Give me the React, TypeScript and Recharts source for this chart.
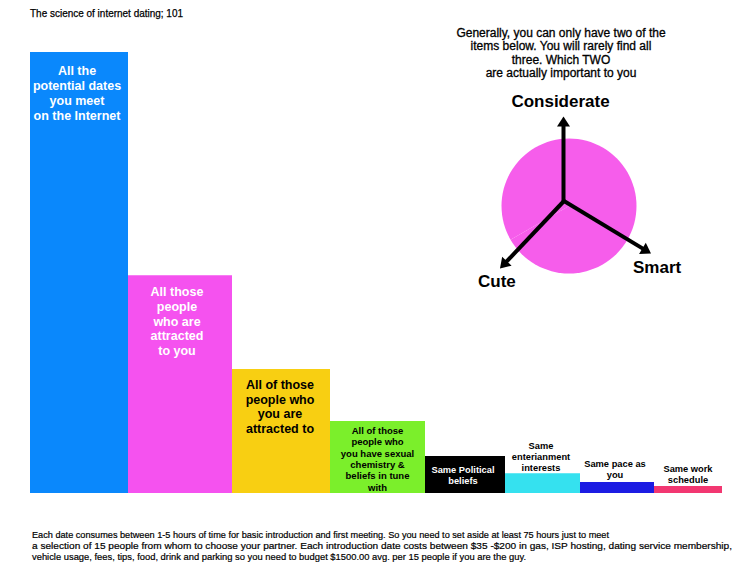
import React from 'react';
import { ComposedChart, Scatter, XAxis, YAxis, ReferenceArea, PieChart, Pie, Cell } from 'recharts';

// bar labels, one array of lines per bar
const categories: string[][] = [
  ['All the', 'potential dates', 'you meet', 'on the Internet'],
  ['All those', 'people', 'who are', 'attracted', 'to you'],
  ['All of those', 'people who', 'you are', 'attracted to'],
  ['All of those', 'people who', 'you have sexual', 'chemistry &', 'beliefs in tune', 'with'],
  ['Same Political', 'beliefs'],
  ['Same', 'enterianment', 'interests'],
  ['Same pace as', 'you'],
  ['Same work', 'schedule'],
];
const values = [100, 49.4, 28.1, 16.3, 8.4, 4.5, 2.5, 1.6];
const spans = [98, 104, 98, 95, 80, 75, 74, 68];

const traits = ['Considerate', 'Smart', 'Cute'];
const traitWeights = [1, 1, 1];

const title = 'The science of internet dating; 101';
const question = [
  'Generally, you can only have two of the',
  'items below. You will rarely find all',
  'three. Which TWO',
  'are actually important to you',
];
const footnote = [
  'Each date consumes between 1-5 hours of time for basic introduction and first meeting. So you need to set aside at least 75 hours just to meet',
  'a selection of 15 people from whom to choose your partner. Each introduction date costs between $35 -$200 in gas, ISP hosting, dating service membership,',
  'vehicle usage, fees, tips, food, drink and parking so you need to budget $1500.00 avg. per 15 people if you are the guy.',
];

const colors = ['#0a88fc', '#f552ef', '#f8cf12', '#7bef2b', '#000000', '#35e1ef', '#1c1ce3', '#f23771'];
const labelStyle = [
  { fill: '#fff', size: 12.5, lh: 15, pos: 'in', off: 22.5, dx: -2 },
  { fill: '#fff', size: 12.5, lh: 14.7, pos: 'in', off: 21, dx: -3 },
  { fill: '#000', size: 12.5, lh: 14.5, pos: 'in', off: 20, dx: -1 },
  { fill: '#000', size: 9.5, lh: 11.3, pos: 'in', off: 13, dx: 0 },
  { fill: '#fff', size: 9.3, lh: 10.8, pos: 'in', off: 17, dx: -2 },
  { fill: '#000', size: 9.3, lh: 11.2, pos: 'out', off: 2, dx: -1.5 },
  { fill: '#000', size: 9.3, lh: 11, pos: 'out', off: 4.3, dx: -2 },
  { fill: '#000', size: 9.3, lh: 11, pos: 'out', off: 2.5, dx: 0 },
];

const FONT = '"Liberation Sans", Arial, Helvetica, sans-serif';

let acc = 0;
const rows = values.map((v, i) => {
  const x0 = acc;
  acc += spans[i];
  return { x0, x1: acc, mid: (x0 + acc) / 2, value: v, lines: categories[i], idx: i };
});
const total = acc;

const pieData = traits.map((name, i) => ({ name, value: traitWeights[i] }));

const BarText = (props: any) => {
  const { cy, payload } = props;
  const s = labelStyle[payload.idx];
  const x = props.cx + s.dx;
  const n = payload.lines.length;
  const first = s.pos === 'in' ? cy + s.off : cy - s.off - (n - 1) * s.lh;
  return (
    <text x={x} y={first} textAnchor="middle" fill={s.fill} fontSize={s.size} fontWeight="bold" fontFamily={FONT}>
      {payload.lines.map((l: string, k: number) => (
        <tspan key={k} x={x} y={first + k * s.lh}>{l}</tspan>
      ))}
    </text>
  );
};

// arrow from center to tip
const Arrow = ({ x1, y1, x2, y2 }: { x1: number; y1: number; x2: number; y2: number }) => {
  const dx = x2 - x1;
  const dy = y2 - y1;
  const len = Math.sqrt(dx * dx + dy * dy);
  const ux = dx / len;
  const uy = dy / len;
  const bx = x2 - ux * 10;
  const by = y2 - uy * 10;
  const hw = 6.5;
  const pts = `${x2},${y2} ${bx - uy * hw},${by + ux * hw} ${bx + uy * hw},${by - ux * hw}`;
  return (
    <g>
      <line x1={x1} y1={y1} x2={bx + ux} y2={by + uy} stroke="#000" strokeWidth={4} />
      <polygon points={pts} fill="#000" />
    </g>
  );
};

export default function App() {
  const cx = 564;
  const cy = 201;
  return (
    <div style={{ position: 'relative', width: 750, height: 579, margin: -8, background: '#fff', overflow: 'hidden' }}>
      <div style={{ position: 'absolute', left: 0, top: 0 }}>
        <ComposedChart width={750} height={579} data={rows} margin={{ top: 52, right: 28, bottom: 86, left: 30 }}>
          <XAxis type="number" dataKey="mid" domain={[0, total]} hide />
          <YAxis type="number" dataKey="value" domain={[0, 100]} hide />
          {rows.map((r, i) => (
            <ReferenceArea key={i} x1={r.x0} x2={r.x1} y1={0} y2={r.value} fill={colors[i]} fillOpacity={1} stroke="none" />
          ))}
          <Scatter dataKey="value" shape={BarText} isAnimationActive={false} />
        </ComposedChart>
      </div>
      <div style={{ position: 'absolute', left: cx - 75, top: cy - 75 }}>
        <PieChart width={150} height={150}>
          <Pie data={pieData} dataKey="value" cx={75} cy={75} outerRadius={67.5} startAngle={90} endAngle={-270} stroke="none" isAnimationActive={false}>
            {pieData.map((d, i) => (
              <Cell key={i} fill="#f65deb" />
            ))}
          </Pie>
        </PieChart>
      </div>
      <svg width={750} height={579} style={{ position: 'absolute', left: 0, top: 0, pointerEvents: 'none' }} fontFamily={FONT}>
        <text x={30} y={17} fontSize={10.5} textLength={153} lengthAdjust="spacingAndGlyphs" stroke="#000" strokeWidth={0.25}>{title}</text>
        {question.map((q, i) => (
          <text key={i} x={561} y={37 + i * 13.3} fontSize={12} textAnchor="middle" stroke="#000" strokeWidth={0.3}>{q}</text>
        ))}
        <Arrow x1={cx - 0.5} y1={cy} x2={563.5} y2={116.5} />
        <Arrow x1={cx} y1={cy} x2={651} y2={253.5} />
        <Arrow x1={cx} y1={cy} x2={500} y2={268.5} />
        <text x={560.5} y={107} fontSize={17} fontWeight="bold" textAnchor="middle">{traits[0]}</text>
        <text x={633} y={273} fontSize={17} fontWeight="bold">{traits[1]}</text>
        <text x={478} y={287} fontSize={17} fontWeight="bold">{traits[2]}</text>
        {footnote.map((f, i) => (
          <text key={i} x={32} y={538 + i * 11} fontSize={9.5} textLength={[577, 700, 494][i]} lengthAdjust="spacingAndGlyphs" stroke="#000" strokeWidth={0.2}>{f}</text>
        ))}
      </svg>
    </div>
  );
}
